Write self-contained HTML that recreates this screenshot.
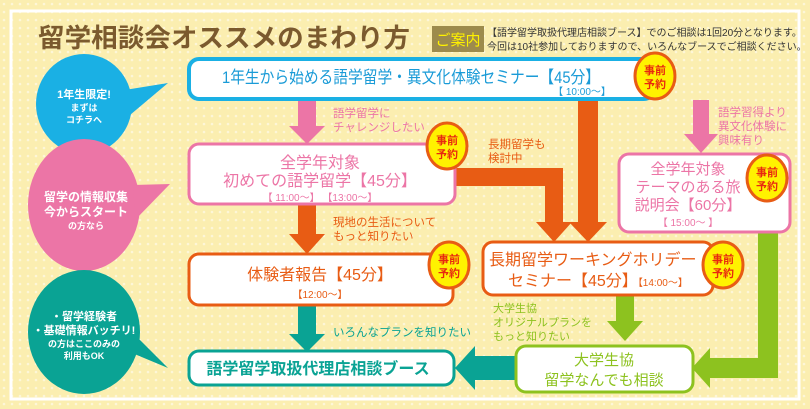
<!DOCTYPE html>
<html><head><meta charset="utf-8"><style>
body{margin:0;width:810px;height:409px;overflow:hidden;background:#fbefb4}
svg{display:block;font-family:"Liberation Sans","Noto Sans CJK JP",sans-serif}
</style></head><body>
<svg width="810" height="409" viewBox="0 0 810 409">
<defs><pattern id="d" width="8" height="8" patternUnits="userSpaceOnUse"><rect width="8" height="8" fill="#fbeeb0"/><circle cx="4" cy="4" r="1.3" fill="#fdf6d8"/></pattern></defs>
<rect width="810" height="409" fill="url(#d)"/>
<rect x="11" y="11" width="788" height="388" fill="none" stroke="#fff" stroke-width="3"/>
<text x="38" y="47" font-size="26" font-weight="bold" fill="#7b5a2e" textLength="372" lengthAdjust="spacingAndGlyphs">留学相談会オススメのまわり方</text>
<rect x="432" y="26" width="52" height="26" fill="#9d8b4c"/>
<text x="458" y="45" font-size="15" fill="#fff200" text-anchor="middle">ご案内</text>
<text x="487" y="36" font-size="10" fill="#333">【語学留学取扱代理店相談ブース】でのご相談は1回20分となります。</text>
<text x="487" y="50" font-size="10" fill="#333">今回は10社参加しておりますので、いろんなブースでご相談ください。</text>

<!-- bubbles -->
<ellipse cx="84" cy="104" rx="48" ry="50" fill="#1ab0e4"/><polygon points="125,90 168,83 130,115" fill="#1ab0e4"/>
<text font-size="11" font-weight="bold" fill="#fff" text-anchor="middle"><tspan x="84" y="98">1年生限定!</tspan><tspan x="84" y="111" font-size="9">まずは</tspan><tspan x="84" y="123" font-size="9">コチラへ</tspan></text>
<ellipse cx="84" cy="205" rx="56" ry="66" fill="#ec75a6"/><polygon points="133,185 170,184 135,220" fill="#ec75a6"/>
<text font-size="12" font-weight="bold" fill="#fff" text-anchor="middle"><tspan x="86" y="201">留学の情報収集</tspan><tspan x="86" y="216">今からスタート</tspan><tspan x="86" y="229" font-size="9">の方なら</tspan></text>
<ellipse cx="84" cy="332" rx="56" ry="62" fill="#0aa394"/><polygon points="130,330 168,368 125,350" fill="#0aa394"/>
<text font-size="11" font-weight="bold" fill="#fff" text-anchor="middle"><tspan x="84" y="320">・留学経験者</tspan><tspan x="84" y="334">・基礎情報バッチリ!</tspan><tspan x="84" y="347" font-size="9">の方はここのみの</tspan><tspan x="84" y="359" font-size="9">利用もOK</tspan></text>

<!-- arrows -->
<rect x="298" y="100" width="18" height="28" fill="#ec75a6"/><polygon points="289,126 325,126 307,144" fill="#ec75a6"/>
<rect x="298" y="204" width="18" height="32" fill="#e85c14"/><polygon points="289,234 325,234 307,254" fill="#e85c14"/>
<rect x="298" y="306" width="18" height="30" fill="#0aa394"/><polygon points="289,334 325,334 307,352" fill="#0aa394"/>
<polygon points="455,168 563,168 563,222 572,222 554,242 536,222 545,222 545,186 455,186" fill="#e85c14"/>
<rect x="578" y="98" width="20" height="124" fill="#e85c14"/><polygon points="569,222 607,222 588,242" fill="#e85c14"/>
<rect x="693" y="100" width="16" height="36" fill="#ec75a6"/><polygon points="684,134 718,134 701,153" fill="#ec75a6"/>
<rect x="616" y="295" width="18" height="28" fill="#8dc21f"/><polygon points="607,321 643,321 625,341" fill="#8dc21f"/>
<polygon points="758,232 778,232 778,378 710,378 710,388 692,368 710,348 710,358 758,358" fill="#8dc21f"/>
<polygon points="517,356 475,356 475,346 455,368 475,390 475,380 517,380" fill="#0aa394"/>

<!-- labels -->
<text font-size="11.5" fill="#ec75a6"><tspan x="333" y="117">語学留学に</tspan><tspan x="333" y="131">チャレンジしたい</tspan></text>
<text font-size="11.5" fill="#e85c14"><tspan x="333" y="226">現地の生活について</tspan><tspan x="333" y="240">もっと知りたい</tspan></text>
<text x="333" y="336" font-size="11.5" fill="#0aa394">いろんなプランを知りたい</text>
<text font-size="11.5" fill="#e85c14"><tspan x="488" y="148">長期留学も</tspan><tspan x="488" y="162">検討中</tspan></text>
<text font-size="11.5" fill="#ec75a6"><tspan x="718" y="116">語学習得より</tspan><tspan x="718" y="130">異文化体験に</tspan><tspan x="718" y="144">興味有り</tspan></text>
<text font-size="11" fill="#8dc21f"><tspan x="493" y="312">大学生協</tspan><tspan x="493" y="326">オリジナルプランを</tspan><tspan x="493" y="340">もっと知りたい</tspan></text>

<!-- boxes -->
<rect x="189" y="59" width="465" height="40" rx="10" fill="#fff" stroke="#1ab0e4" stroke-width="4"/>
<text x="222" y="83" font-size="17" fill="#1a9bd7" textLength="378" lengthAdjust="spacingAndGlyphs">1年生から始める語学留学・異文化体験セミナー【45分】</text>
<text x="582" y="95" font-size="10" fill="#1a9bd7" text-anchor="middle">【 10:00～】</text>

<rect x="189" y="144" width="266" height="60" rx="10" fill="#fff" stroke="#ec75a6" stroke-width="3"/>
<text font-size="16" fill="#ec75a6" text-anchor="middle"><tspan x="320" y="168">全学年対象</tspan><tspan x="320" y="186">初めての語学留学【45分】</tspan><tspan x="320" y="201" font-size="10">【 11:00～】 【13:00～】</tspan></text>

<rect x="189" y="254" width="264" height="51" rx="10" fill="#fff" stroke="#e85c14" stroke-width="3"/>
<text font-size="16" fill="#e85c14" text-anchor="middle"><tspan x="320" y="280">体験者報告【45分】</tspan><tspan x="320" y="298" font-size="10">【12:00～】</tspan></text>

<rect x="189" y="351" width="265" height="34" rx="10" fill="#fff" stroke="#0aa394" stroke-width="3"/>
<text x="318" y="374" font-size="16" font-weight="bold" fill="#0aa394" text-anchor="middle">語学留学取扱代理店相談ブース</text>

<rect x="619" y="154" width="171" height="78" rx="10" fill="#fff" stroke="#ec75a6" stroke-width="3"/>
<text font-size="15" fill="#ec75a6" text-anchor="middle"><tspan x="688" y="174">全学年対象</tspan><tspan x="688" y="192">テーマのある旅</tspan><tspan x="688" y="210">説明会【60分】</tspan><tspan x="688" y="226" font-size="10">【 15:00～ 】</tspan></text>

<rect x="483" y="242" width="230" height="53" rx="10" fill="#fff" stroke="#e85c14" stroke-width="3"/>
<text font-size="16" fill="#e85c14"><tspan x="489" y="265">長期留学ワーキングホリデー</tspan><tspan x="508" y="286">セミナー【45分】</tspan><tspan font-size="10">【14:00～】</tspan></text>

<rect x="516" y="346" width="177" height="46" rx="10" fill="#fff" stroke="#8dc21f" stroke-width="3"/>
<text font-size="15" fill="#8dc21f" text-anchor="middle"><tspan x="604" y="365">大学生協</tspan><tspan x="604" y="385">留学なんでも相談</tspan></text>

<!-- badges -->
<g font-size="11" font-weight="bold" fill="#e8280f" text-anchor="middle">
<g transform="translate(655,76)"><ellipse rx="20" ry="23" fill="#fff200" stroke="#e85c14" stroke-width="3"/><text y="-2">事前</text><text y="12">予約</text></g>
<g transform="translate(447,146)"><ellipse rx="20" ry="23" fill="#fff200" stroke="#e85c14" stroke-width="3"/><text y="-2">事前</text><text y="12">予約</text></g>
<g transform="translate(767,178)"><ellipse rx="20" ry="23" fill="#fff200" stroke="#e85c14" stroke-width="3"/><text y="-2">事前</text><text y="12">予約</text></g>
<g transform="translate(449,265)"><ellipse rx="20" ry="23" fill="#fff200" stroke="#e85c14" stroke-width="3"/><text y="-2">事前</text><text y="12">予約</text></g>
<g transform="translate(723,265)"><ellipse rx="20" ry="23" fill="#fff200" stroke="#e85c14" stroke-width="3"/><text y="-2">事前</text><text y="12">予約</text></g>
</g>
</svg>
</body></html>
